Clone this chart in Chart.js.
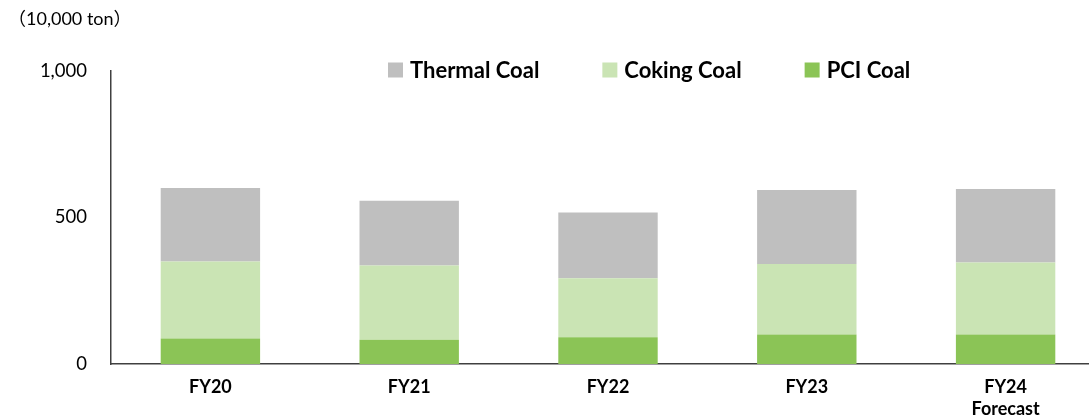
<!DOCTYPE html>
<html><head><meta charset="utf-8">
<script src="https://cdn.jsdelivr.net/npm/chart.js@4/dist/chart.umd.min.js"></script>
<style>
html,body{margin:0;padding:0;background:#fff;overflow:hidden;width:1089px;height:419px}
#wrap{position:relative;width:1105px;height:419px}
canvas{display:block}
</style></head><body>
<div id="wrap"><canvas id="c" width="1105" height="419" style="width:1105px;height:419px"></canvas></div>
<script>
const categories = [['FY20'], ['FY21'], ['FY22'], ['FY23'], ['FY24', 'Forecast']];
const pciCoal = [87, 83, 91, 101, 101];
const cokingCoal = [263, 253, 202, 240, 245];
const thermalCoal = [251, 221, 224, 253, 251];
const yTicks = [0, 500, 1000];
const unitLabel = '（10,000 ton）';

const FONT = 'Lato, "Noto Sans CJK JP", sans-serif';

const overlay = {
  id: 'overlay',
  afterDraw(chart) {
    const ctx = chart.ctx;
    ctx.save();
    // unit label
    ctx.fillStyle = '#000';
    ctx.font = '18px ' + FONT;
    ctx.textBaseline = 'middle';
    ctx.textAlign = 'left';
    ctx.fillText(unitLabel, 8, 19);
    // legend (reverse dataset order: top of stack first)
    ctx.font = 'bold 22px ' + FONT;
    let x = 388;
    const y = 70;
    const ds = chart.data.datasets.slice().reverse();
    ds.forEach(d => {
      ctx.fillStyle = d.backgroundColor;
      ctx.fillRect(x, y - 7.5, 15, 15);
      ctx.fillStyle = '#000';
      ctx.fillText(d.label, x + 22, y + 1);
      x += 22 + ctx.measureText(d.label).width + 63;
    });
    ctx.restore();
  }
};

new Chart(document.getElementById('c'), {
  type: 'bar',
  data: {
    labels: categories,
    datasets: [
      { label: 'PCI Coal', data: pciCoal, backgroundColor: '#8BC456' },
      { label: 'Coking Coal', data: cokingCoal, backgroundColor: '#CAE4B4' },
      { label: 'Thermal Coal', data: thermalCoal, backgroundColor: '#BFBFBF' }
    ]
  },
  options: {
    responsive: false,
    animation: false,
    layout: { padding: { top: 71, left: 0, right: 0, bottom: 0 } },
    plugins: { legend: { display: false }, tooltip: { enabled: false }, title: { display: false } },
    datasets: { bar: { categoryPercentage: 1, barPercentage: 0.5 } },
    scales: {
      x: {
        stacked: true,
        grid: { display: false, drawTicks: false, tickLength: 0 },
        border: { display: true, color: '#404040', width: 1.5 },
        ticks: { color: '#000', font: { family: FONT, size: 18, weight: 'bold', lineHeight: 1.22 }, padding: 12, maxRotation: 0, autoSkip: false },
        afterFit(s) { s.height = 55; }
      },
      y: {
        stacked: true,
        min: 0, max: 1000,
        afterBuildTicks(s) { s.ticks = yTicks.map(v => ({ value: v })); },
        grid: { display: false, drawTicks: false, tickLength: 0 },
        border: { display: true, color: '#404040', width: 1.5 },
        ticks: { color: '#000', font: { family: FONT, size: 18.5 }, padding: 24,
          callback: v => Number(v).toLocaleString('en-US') },
        afterFit(s) { s.width = 111; }
      }
    }
  },
  plugins: [overlay]
});
</script>
</body></html>
